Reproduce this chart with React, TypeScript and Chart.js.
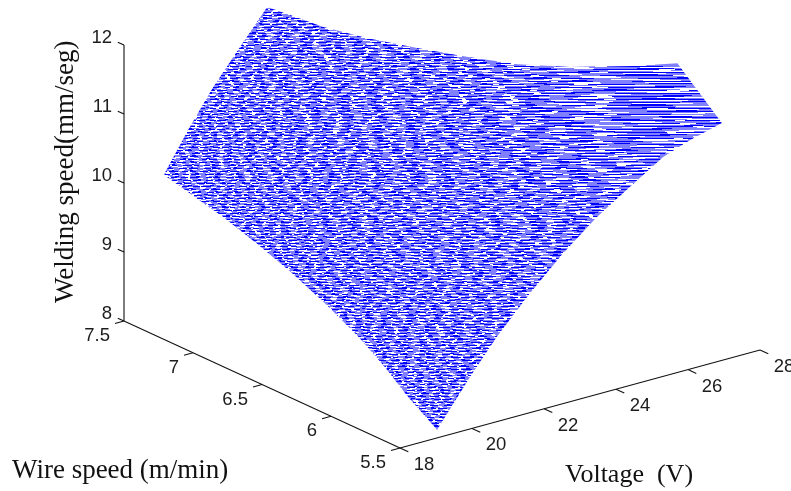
import React, { useEffect, useRef } from "react";
import { Chart, registerables } from "chart.js";

Chart.register(...registerables);

// Surface outline: voltage (V), wire speed (m/min), welding speed (mm/seg)
const outlineVoltage = [19.03, 19.03, 19.03, 19.03, 19.03, 19.03, 19.03, 19.03, 19.03, 19.03, 19.7, 20.39, 21.14, 21.94, 22.04, 22.16, 22.51, 23.0, 23.53, 24.14, 24.95, 26.09, 26.97, 26.94, 26.06, 25.31, 24.39, 23.47, 22.53, 21.61, 20.69, 19.94];
const outlineWire = [5.5, 5.71, 5.88, 6.07, 6.32, 6.56, 6.8, 7.04, 7.26, 7.48, 7.48, 7.48, 7.48, 7.49, 7.35, 7.14, 6.91, 6.68, 6.46, 6.25, 6.08, 5.92, 5.83, 5.5, 5.5, 5.5, 5.5, 5.5, 5.5, 5.5, 5.5, 5.5];
const outlineWeld = [8.12, 8.4, 8.68, 8.94, 9.21, 9.43, 9.61, 9.77, 9.88, 9.99, 10.54, 11.06, 11.54, 12, 12, 12, 12, 12, 12, 12, 12, 12, 12, 11.44, 11.32, 11.18, 10.88, 10.57, 10.18, 9.73, 9.23, 8.75];

const voltageTicks = [18, 20, 22, 24, 26, 28];
const wireTicks = [5.5, 6, 6.5, 7, 7.5];
const weldTicks = [8, 9, 10, 11, 12];
const voltageTickLabels = ["18", "20", "22", "24", "26", "28"];
const wireTickLabels = ["5.5", "6", "6.5", "7", "7.5"];
const weldTickLabels = ["8", "9", "10", "11", "12"];
const voltageTitle = "Voltage  (V)";
const wireTitle = "Wire speed (m/min)";
const weldTitle = "Welding speed(mm/seg)";

const W = 791;
const H = 491;

// The view of the 3D box on the page
function project(v: number, w: number, z: number) {
  return {
    x: 400 + 36 * (v - 18) - 138 * (w - 5.5),
    y: 448 - 9.8 * (v - 18) - 63.5 * (w - 5.5) - 69 * (z - 8),
  };
}

// Texture standing in for the dense mesh lines of the surface (a fill style, not data)
function meshPattern(): CanvasPattern | string {
  const c = document.createElement("canvas");
  c.width = W;
  c.height = H;
  const g = c.getContext("2d");
  if (!g) return "#5050ff";
  g.fillStyle = "#ffffff";
  g.fillRect(0, 0, W, H);
  const B = "#0000ff";
  const L = "#8080ff";
  const O = "#ffffff";
  const rowColours = [
    [B, L, B, O],
    [L, O, L, O],
    [L, B, L, O],
  ];
  const rowLengths = [
    [1.2, 0.9, 1.2, 0.3],
    [1.0, 1.0, 1.0, 0.8],
    [1.0, 0.5, 1.0, 0.7],
  ];
  let seed = 2463534242;
  const next = () => {
    seed ^= seed << 13;
    seed ^= seed >>> 17;
    seed ^= seed << 5;
    return (seed >>> 0) / 4294967296;
  };
  for (let y = 0; y < H; y++) {
    const colours = rowColours[y % 3];
    const lengths = rowLengths[y % 3];
    let x = -60 - next() * 30;
    let i = Math.floor(next() * 4);
    while (x < W) {
      const d = Math.hypot(x - 640, (y - 90) * 1.25);
      const len = 6 + 60 * Math.pow(Math.max(0, 1 - d / 190), 2) + 10 * Math.max(0, 1 - d / 430);
      const s = Math.max(1, len * lengths[i % 4] * (0.7 + 0.6 * next()));
      g.fillStyle = colours[i % 4];
      g.fillRect(Math.round(x), y, Math.ceil(s), 1);
      x += s;
      i++;
    }
  }
  return g.createPattern(c, "no-repeat") ?? "#5050ff";
}

function axisDataset(points: { x: number; y: number }[]) {
  return {
    data: points,
    showLine: true,
    borderColor: "#111111",
    borderWidth: 1.1,
    pointRadius: 0,
    fill: false,
    tension: 0,
  };
}

export default function App() {
  const ref = useRef<HTMLCanvasElement | null>(null);

  useEffect(() => {
    document.body.style.margin = "0";
    if (!ref.current) return;

    const outline = outlineVoltage.map((v, i) => project(v, outlineWire[i], outlineWeld[i]));
    outline.push(outline[0]);

    const textPlugin = {
      id: "boxText",
      afterDraw(chart: any) {
        const { ctx, scales } = chart;
        const px = (p: { x: number; y: number }) => ({ x: scales.x.getPixelForValue(p.x), y: scales.y.getPixelForValue(p.y) });
        ctx.save();
        ctx.fillStyle = "#1c1c1c";
        ctx.textBaseline = "middle";
        ctx.font = '18.5px "Liberation Sans"';
        ctx.textAlign = "right";
        weldTicks.forEach((z, i) => {
          const p = px(project(18, 7.5, z));
          ctx.fillText(weldTickLabels[i], p.x - 12, p.y - 7);
        });
        wireTicks.forEach((w, i) => {
          const p = px(project(18, w, 8));
          ctx.fillText(wireTickLabels[i], p.x - 14, p.y + 15);
        });
        ctx.textAlign = "center";
        voltageTicks.forEach((v, i) => {
          const p = px(project(v, 5.5, 8));
          ctx.fillText(voltageTickLabels[i], p.x + 24, p.y + 17);
        });
        ctx.textBaseline = "alphabetic";
        ctx.textAlign = "left";
        ctx.fillStyle = "#111111";
        ctx.font = '27px "Liberation Serif"';
        ctx.fillText(wireTitle, 12, 478);
        ctx.font = '26px "Liberation Serif"';
        ctx.fillText(voltageTitle, 565, 482);
        ctx.font = '27px "Liberation Serif"';
        ctx.translate(73, 303);
        ctx.rotate(-Math.PI / 2);
        ctx.fillText(weldTitle, 0, 0);
        ctx.restore();
      },
    };

    const axes = [
      axisDataset([project(18, 5.5, 8), project(28, 5.5, 8)]),
      axisDataset([project(18, 5.5, 8), project(18, 7.5, 8)]),
      axisDataset([project(18, 7.5, 8), project(18, 7.5, 12)]),
      ...voltageTicks.map((v) => axisDataset([project(v, 5.5, 8), project(v, 5.44, 8)])),
      ...wireTicks.map((w) => axisDataset([project(18, w, 8), project(17.75, w, 8)])),
      ...weldTicks.map((z) => axisDataset([project(18, 7.5, z), project(18, 7.545, z)])),
    ];

    const chart = new Chart(ref.current, {
      type: "scatter",
      data: {
        datasets: [
          {
            data: outline,
            showLine: true,
            borderWidth: 0,
            borderColor: "rgba(0,0,0,0)",
            pointRadius: 0,
            tension: 0,
            fill: "shape",
            backgroundColor: meshPattern() as any,
          },
          ...axes,
        ] as any,
      },
      options: {
        animation: false,
        responsive: false,
        layout: { padding: 0 },
        plugins: { legend: { display: false }, tooltip: { enabled: false } },
        scales: {
          x: { type: "linear", min: 0, max: W, display: false },
          y: { type: "linear", min: 0, max: H, reverse: true, display: false },
        },
      },
      plugins: [textPlugin],
    });
    return () => chart.destroy();
  }, []);

  return <canvas ref={ref} width={W} height={H} style={{ display: "block" }} />;
}
